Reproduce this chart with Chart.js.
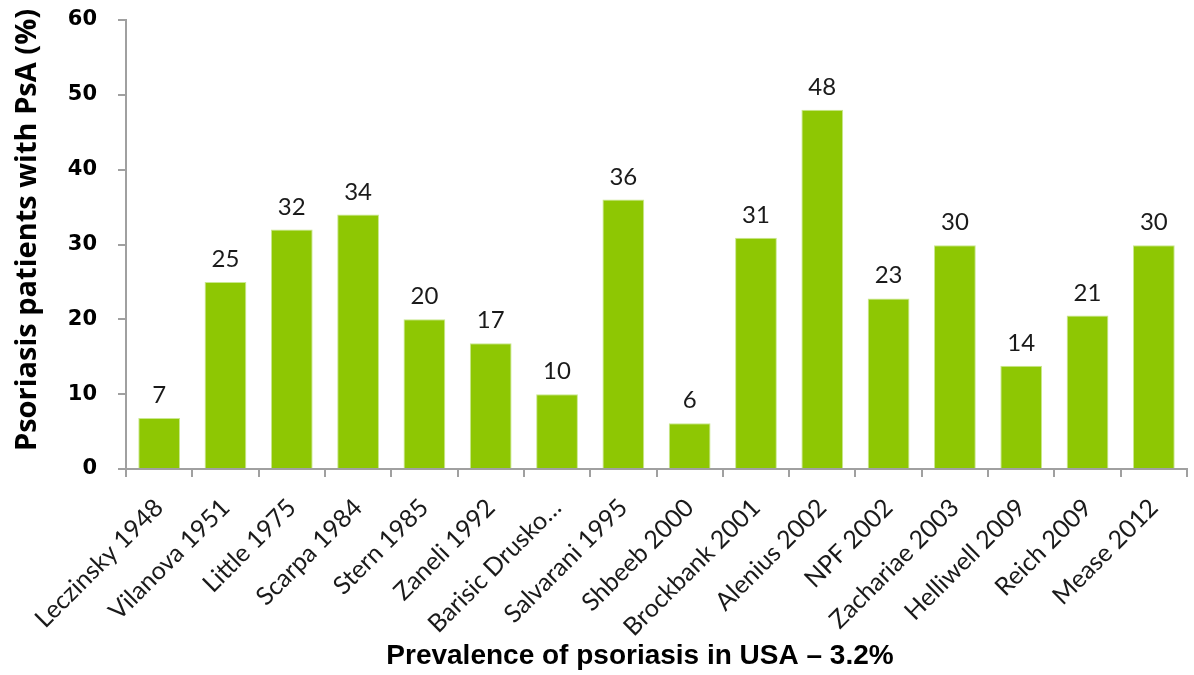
<!DOCTYPE html>
<html>
<head>
<meta charset="utf-8">
<script src="https://cdn.jsdelivr.net/npm/chart.js@4.4.1/dist/chart.umd.min.js"></script>
<style>
  html,body{margin:0;padding:0;background:#fff;}
  #wrap{width:1194px;height:675px;}
</style>
</head>
<body>
<div id="wrap"><canvas id="psaChart" width="1194" height="675"></canvas></div>
<script>
const studies = ['Leczinsky 1948','Vilanova 1951','Little 1975','Scarpa 1984','Stern 1985','Zaneli 1992','Barisic Drusko…','Salvarani 1995','Shbeeb 2000','Brockbank 2001','Alenius 2002','NPF 2002','Zachariae 2003','Helliwell 2009','Reich 2009','Mease 2012'];
const psaPercent = [6.8, 25, 32, 34, 20, 16.8, 10, 36, 6.1, 30.9, 48, 22.8, 29.9, 13.8, 20.5, 29.9];
const yTicks = [0, 10, 20, 30, 40, 50, 60];
const xTitle = 'Prevalence of psoriasis in USA – 3.2%';
const yTitle = 'Psoriasis patients with PsA (%)';

const axisGrey = '#a0a0a0';

// value above each bar + the two axis titles
const annotations = {
  id:'annotations',
  afterDatasetsDraw(chart){
    const ctx = chart.ctx;
    const meta = chart.getDatasetMeta(0);
    ctx.save();
    ctx.font = '24px Lato';
    ctx.fillStyle = '#1a1a1a';
    ctx.textAlign = 'center';
    ctx.textBaseline = 'alphabetic';
    meta.data.forEach((bar, i)=>{
      ctx.fillText(Math.round(psaPercent[i]), bar.x, bar.y - 15);
    });

    ctx.fillStyle = '#000';
    ctx.font = 'bold 28px "Liberation Sans"';
    ctx.textBaseline = 'middle';
    ctx.fillText(xTitle, 640, 656);

    ctx.translate(28, 230);
    ctx.rotate(-Math.PI/2);
    ctx.font = 'bold 29px "Open Sans"';
    ctx.fillText(yTitle, 0, 0);
    ctx.restore();
  }
};

const ctx = document.getElementById('psaChart').getContext('2d');
new Chart(ctx, {
  type:'bar',
  data:{
    labels: studies,
    datasets:[{
      data: psaPercent,
      backgroundColor:'#8ec703',
      borderColor:'#c9e88f',
      borderWidth:1,
      categoryPercentage:1,
      barPercentage:0.63
    }]
  },
  options:{
    responsive:false,
    animation:false,
    layout:{padding:{top:20, right:7, left:0, bottom:0}},
    plugins:{legend:{display:false}, tooltip:{enabled:false}},
    scales:{
      x:{
        grid:{display:true, drawOnChartArea:false, drawTicks:true, tickLength:8, color:axisGrey, lineWidth:2, offset:true},
        border:{display:true, color:axisGrey, width:2},
        ticks:{color:'#1a1a1a', font:{family:'Lato', size:25}, maxRotation:45, minRotation:45, padding:16, autoSkip:false},
        afterFit(scale){ scale.height = 206; scale.paddingLeft = 0; scale.paddingRight = 0; }
      },
      y:{
        min:0, max:60,
        afterBuildTicks(scale){ scale.ticks = yTicks.map(v=>({value:v})); },
        grid:{display:true, drawOnChartArea:false, drawTicks:true, tickLength:8, color:axisGrey, lineWidth:2},
        border:{display:true, color:axisGrey, width:2},
        ticks:{color:'#000', font:{family:'DejaVu Sans', size:21, weight:'bold'}, padding:21},
        afterFit(scale){ scale.width = 126; scale.paddingTop = 0; scale.paddingBottom = 0; }
      }
    }
  },
  plugins:[annotations]
});
</script>
</body>
</html>
